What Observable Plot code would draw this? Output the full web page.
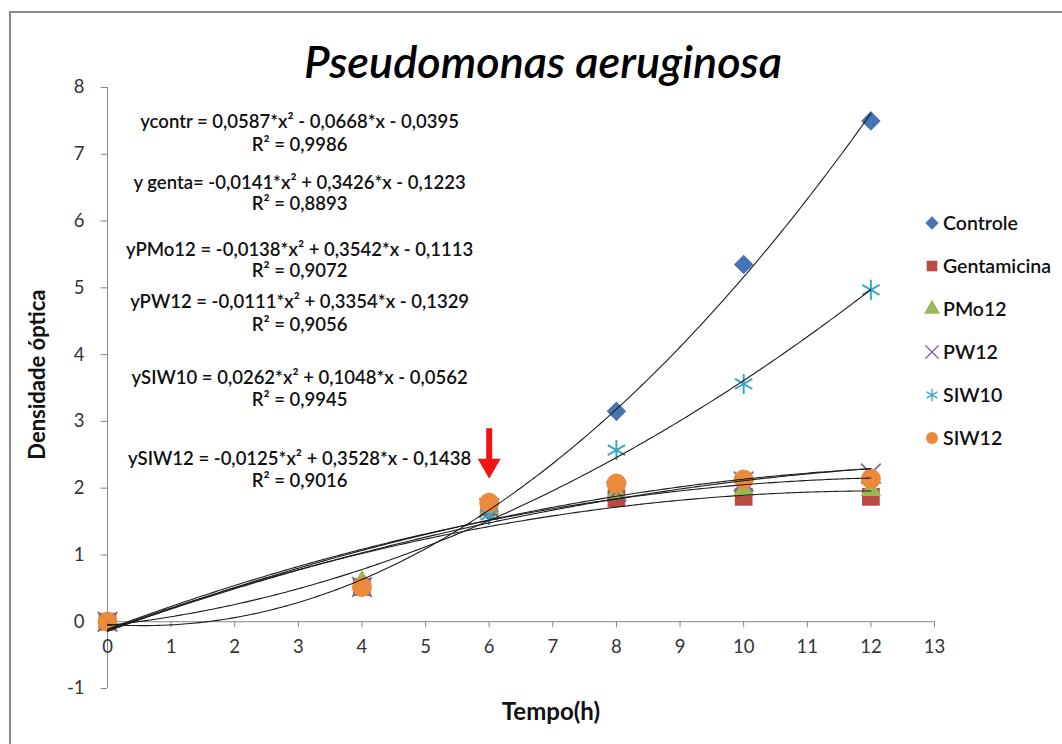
<!DOCTYPE html>
<html><head><meta charset="utf-8">
<script src="https://cdn.jsdelivr.net/npm/d3@7"></script>
<script src="https://cdn.jsdelivr.net/npm/@observablehq/plot@0.6"></script>
<style>
html,body{margin:0;padding:0;background:#fff;overflow:hidden;}
#wrap{position:relative;width:1062px;height:744px;overflow:hidden;font-family:Lato,"Open Sans",sans-serif;}
#frame{position:absolute;left:9px;top:11px;width:1100px;height:800px;border-left:2px solid #8a8a8a;border-top:2px solid #8a8a8a;}
#chart{position:absolute;left:0;top:0;}
#title{position:absolute;left:0;width:1086px;text-align:center;top:39px;font-style:italic;font-size:45px;line-height:45px;color:#000;font-weight:600;}
#legend{position:absolute;left:924px;top:201px;font-size:19.5px;font-weight:600;color:#111;}
#legend .row{display:flex;align-items:center;height:43px;}
#legend svg{width:16px;height:16px;margin-right:3px;overflow:visible;}
</style></head>
<body><div id="wrap"><div id="frame"></div><div id="chart"></div><div id="title">Pseudomonas aeruginosa</div><div id="legend"></div></div>
<script>
// ---- data ----
const times = [0, 4, 6, 8, 10, 12];
const seriesNames = ["Controle", "Gentamicina", "PMo12", "PW12", "SIW10", "SIW12"];
const controle    = [0, 0.52, 1.65, 3.15, 5.35, 7.50];
const gentamicina = [0, 0.52, 1.72, 1.85, 1.87, 1.87];
const pmo12       = [0, 0.60, 1.70, 1.93, 1.97, 1.97];
const pw12        = [0, 0.52, 1.70, 1.95, 2.10, 2.22];
const siw10       = [0, 0.52, 1.60, 2.57, 3.56, 4.97];
const siw12       = [0, 0.52, 1.78, 2.07, 2.13, 2.14];
// quadratic trendline coefficients [a, b, c] as printed on the chart
const coefControle    = [0.0587, -0.0668, -0.0395];
const coefGentamicina = [-0.0141, 0.3426, -0.1223];
const coefPMo12       = [-0.0138, 0.3542, -0.1113];
const coefPW12        = [-0.0111, 0.3354, -0.1329];
const coefSIW10       = [0.0262, 0.1048, -0.0562];
const coefSIW12       = [-0.0125, 0.3528, -0.1438];
const equations = [
  "ycontr = 0,0587*x² - 0,0668*x - 0,0395", "R² = 0,9986",
  "y genta= -0,0141*x² + 0,3426*x - 0,1223", "R² = 0,8893",
  "yPMo12 = -0,0138*x² + 0,3542*x - 0,1113", "R² = 0,9072",
  "yPW12 = -0,0111*x² + 0,3354*x - 0,1329", "R² = 0,9056",
  "ySIW10 = 0,0262*x² + 0,1048*x - 0,0562", "R² = 0,9945",
  "ySIW12 = -0,0125*x² + 0,3528*x - 0,1438", "R² = 0,9016"
];
const xTicks = [0,1,2,3,4,5,6,7,8,9,10,11,12,13];
const yTicks = [-1,0,1,2,3,4,5,6,7,8];
const title = "Pseudomonas aeruginosa";
const xLabel = "Tempo(h)";
const yLabel = "Densidade óptica";

// ---- build ----
const values = [controle, gentamicina, pmo12, pw12, siw10, siw12];
const coefs = [coefControle, coefGentamicina, coefPMo12, coefPW12, coefSIW10, coefSIW12];
const styles = [
  {symbol: "diamond2", fill: "#4674b4", r: 8.8},
  {symbol: "square", fill: "#bb4946", r: 10},
  {symbol: "triangle", fill: "#98b954", r: 7.6},
  {symbol: "times", stroke: "#7d62a0", r: 9, strokeWidth: 1.6},
  {symbol: "asterisk", stroke: "#3aa6c2", r: 9.5, strokeWidth: 2},
  {symbol: "circle", fill: "#ec8a3c", r: 10}
];
const points = seriesNames.map((s, k) => times.map((t, i) => ({series: s, x: t, y: values[k][i]})));
const curves = [];
seriesNames.forEach((s, k) => {
  const [a, b, c] = coefs[k];
  for (let i = 0; i <= 240; i++) { const x = i * 0.05; curves.push({series: s, x, y: a*x*x + b*x + c}); }
});
const eqY = [7.485, 7.14, 6.57, 6.255, 5.57, 5.25, 4.78, 4.44, 3.65, 3.32, 2.43, 2.1];
const eqRows = equations.map((t, i) => ({t, y: eqY[i]}));

const font = "Lato, 'Open Sans', sans-serif";
const marks = [
  Plot.ruleX([0], {y1: -1, y2: 8, stroke: "#868686"}),
  Plot.ruleY([0], {x1: 0, x2: 13, stroke: "#868686"}),
  Plot.ruleX(xTicks, {y1: 0, y2: -0.09, stroke: "#868686"}),
  Plot.ruleY(yTicks, {x1: 0, x2: -0.1, stroke: "#868686"}),
  Plot.text(xTicks, {x: d => d, y: 0, dy: 25, text: d => String(d), fontSize: 18.5, fill: "#333"}),
  Plot.text(yTicks, {x: 0, y: d => d, dx: -23, textAnchor: "end", text: d => String(d), fontSize: 18.5, fill: "#333"}),
  Plot.text([xLabel], {x: 6.97, y: -1, dy: 24, text: d => d, fontSize: 24, fontWeight: "bold", fill: "#111"}),
  Plot.text([yLabel], {x: 0, y: 3.7, dx: -70, rotate: -90, text: d => d, fontSize: 22, fontWeight: "bold", fill: "#111"}),
  Plot.text(eqRows, {x: 3.02, y: "y", text: "t", fontSize: 18.5, fontWeight: 600, fill: "#111"}),
  ...points.map((p, k) => Plot.dot(p, {x: "x", y: "y", ...styles[k]})),
  Plot.line(curves, {x: "x", y: "y", z: "series", stroke: "#1c1c1c", strokeWidth: 1.1}),
  Plot.ruleX([6], {y1: 2.89, y2: 2.41, stroke: "#f01414", strokeWidth: 6}),
  Plot.dot([6], {x: d => d, y: 2.34, symbol: "triangle", rotate: 180, r: 8.5, fill: "#f01414"})
];
const chart = Plot.plot({
  width: 1062, height: 744,
  marginLeft: 107, marginRight: 128, marginTop: 87, marginBottom: 56,
  x: {domain: [0, 13], axis: null}, y: {domain: [-1, 8], axis: null},
  style: {fontFamily: font, background: "transparent", overflow: "visible"},
  marks
});
document.getElementById("chart").append(chart);
document.getElementById("title").textContent = title;

// legend
const legend = d3.select("#legend");
const symMap = {diamond2: d3.symbolDiamond2, square: d3.symbolSquare, triangle: d3.symbolTriangle, times: d3.symbolTimes, asterisk: d3.symbolAsterisk, circle: d3.symbolCircle};
seriesNames.forEach((s, k) => {
  const st = styles[k];
  const row = legend.append("div").attr("class", "row");
  const svg = row.append("svg").attr("viewBox", "-8 -8 16 16");
  svg.append("path").attr("d", d3.symbol(symMap[st.symbol], Math.PI * 36)())
    .attr("fill", st.fill || "none").attr("stroke", st.stroke || "none").attr("stroke-width", st.stroke ? 1.3 : 0);
  row.append("span").text(s);
});
</script></body></html>
